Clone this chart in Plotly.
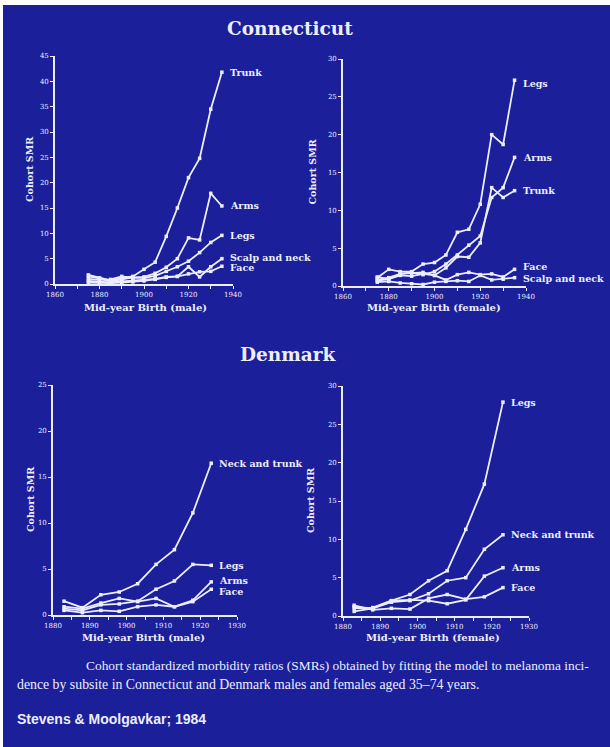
import plotly.graph_objects as go

# ---------------- data ----------------
ct_years = [1875, 1880, 1885, 1890, 1895, 1900, 1905, 1910, 1915, 1920, 1925, 1930, 1935]
dk_years = [1883, 1888, 1893, 1898, 1903, 1908, 1913, 1918, 1923]

# Connecticut males
ctm_trunk = [1.8, 1.2, 0.7, 1.2, 1.5, 2.9, 4.3, 9.4, 15.0, 21.0, 24.8, 34.5, 41.8]
ctm_arms  = [1.5, 1.1, 0.5, 0.9, 1.3, 1.4, 2.1, 3.3, 5.0, 9.1, 8.7, 17.9, 15.4]
ctm_legs  = [1.0, 0.8, 0.9, 1.5, 1.2, 1.2, 1.6, 2.5, 3.4, 4.5, 6.2, 8.2, 9.6]
ctm_scalp = [0.6, 0.4, 0.3, 0.5, 0.7, 0.9, 1.0, 1.4, 1.5, 3.4, 1.4, 3.4, 5.0]
ctm_face  = [0.3, 0.2, 0.2, 0.3, 0.4, 0.6, 0.9, 1.3, 1.5, 2.0, 2.4, 2.5, 3.5]

# Connecticut females
ctf_legs  = [1.1, 2.2, 1.9, 1.9, 2.9, 3.1, 4.1, 7.1, 7.5, 10.8, 20.0, 18.7, 27.2]
ctf_arms  = [0.8, 1.1, 1.6, 1.8, 1.5, 1.9, 2.9, 4.1, 5.4, 6.6, 11.7, 13.0, 17.0]
ctf_trunk = [1.2, 0.9, 1.4, 1.3, 1.6, 1.4, 2.4, 3.9, 3.8, 5.7, 13.0, 11.7, 12.6]
ctf_face  = [0.7, 0.9, 1.6, 1.7, 1.8, 1.4, 0.8, 1.5, 1.8, 1.5, 1.6, 1.2, 2.2]
ctf_scalp = [0.5, 0.6, 0.4, 0.3, 0.2, 0.5, 0.6, 0.7, 0.6, 1.4, 0.8, 0.9, 1.1]

# Denmark males
dkm_necktrunk = [1.5, 0.8, 2.2, 2.5, 3.4, 5.5, 7.1, 11.1, 16.5]
dkm_legs      = [0.7, 0.5, 1.1, 1.2, 1.5, 2.8, 3.7, 5.5, 5.4]
dkm_arms      = [0.9, 0.7, 1.3, 1.8, 1.45, 1.8, 0.9, 1.6, 3.6]
dkm_face      = [0.5, 0.25, 0.5, 0.4, 0.9, 1.1, 0.9, 1.45, 2.8]

# Denmark females
dkf_legs      = [1.0, 1.1, 2.0, 2.8, 4.6, 5.9, 11.3, 17.2, 27.9]
dkf_necktrunk = [1.2, 1.0, 1.8, 2.0, 2.9, 4.6, 5.0, 8.7, 10.6]
dkf_arms      = [0.6, 1.0, 2.0, 2.1, 2.0, 1.6, 2.1, 5.2, 6.3]
dkf_face      = [1.4, 0.8, 1.0, 0.9, 2.3, 2.8, 2.2, 2.5, 3.7]

ct_ticks = [1860, 1880, 1900, 1920, 1940]
dk_ticks = [1880, 1890, 1900, 1910, 1920, 1930]

# ---------------- style ----------------
W, H = 610, 747
BG = "rgb(27,31,153)"
FG = "rgb(236,238,255)"
SERIF = "DejaVu Serif"


def px(x):
    return x / W


def py(y):
    return 1 - y / H


panels = [
    dict(ax="", xd=(55, 233), yd=(56, 284), xr=[1860, 1940], yr=[0, 45], ydt=5,
         years=ct_years, xt=ct_ticks, minor=10,
         series=[("Trunk", ctm_trunk, 0), ("Arms", ctm_arms, 0), ("Legs", ctm_legs, 0),
                 ("Scalp and neck", ctm_scalp, 1), ("Face", ctm_face, -1)],
         xtitle="Mid-year Birth (male)", ytx=30, xtx=145, xty=307),
    dict(ax="2", xd=(343, 526), yd=(59, 286), xr=[1860, 1940], yr=[0, 30], ydt=5,
         years=ct_years, xt=ct_ticks, minor=10,
         series=[("Legs", ctf_legs, -3), ("Arms", ctf_arms, 0), ("Trunk", ctf_trunk, 0),
                 ("Face", ctf_face, 3), ("Scalp and neck", ctf_scalp, -1)],
         xtitle="Mid-year Birth (female)", ytx=312, xtx=434, xty=307),
    dict(ax="3", xd=(53, 237), yd=(385, 615), xr=[1880, 1930], yr=[0, 25], ydt=5,
         years=dk_years, xt=dk_ticks, minor=5,
         series=[("Neck and trunk", dkm_necktrunk, 0), ("Legs", dkm_legs, 0),
                 ("Arms", dkm_arms, 1), ("Face", dkm_face, -2)],
         xtitle="Mid-year Birth (male)", ytx=30, xtx=143, xty=637),
    dict(ax="4", xd=(343, 529), yd=(386, 616), xr=[1880, 1930], yr=[0, 30], ydt=5,
         years=dk_years, xt=dk_ticks, minor=5,
         series=[("Legs", dkf_legs, 0), ("Neck and trunk", dkf_necktrunk, 0),
                 ("Arms", dkf_arms, 0), ("Face", dkf_face, 0)],
         xtitle="Mid-year Birth (female)", ytx=310, xtx=433, xty=637),
]

fig = go.Figure()
annotations = []
layout_axes = {}


def ann(x, y, text, size, family=SERIF, xanchor="center", angle=0):
    return dict(x=px(x), y=py(y), xref="paper", yref="paper", text=text,
                showarrow=False, xanchor=xanchor, yanchor="middle", textangle=angle,
                font=dict(family=family, size=size, color=FG))


for p in panels:
    a = p["ax"]
    xref = "x" + a
    yref = "y" + a
    for name, vals, dy in p["series"]:
        fig.add_trace(go.Scatter(
            x=p["years"], y=vals, mode="lines+markers", name=name,
            xaxis=xref, yaxis=yref, showlegend=False, cliponaxis=False,
            line=dict(color=FG, width=1.8),
            marker=dict(color=FG, size=3.5, symbol="square"),
        ))
        annotations.append(dict(
            x=p["years"][-1], y=vals[-1], xref=xref, yref=yref,
            text="<b>%s</b>" % name, showarrow=False, xanchor="left", yanchor="middle",
            xshift=6, yshift=dy, font=dict(family=SERIF, size=9.5, color=FG)))
    common = dict(showline=True, linecolor=FG, linewidth=1.6, ticks="outside",
                  tickcolor=FG, ticklen=3, tickwidth=1.2, showgrid=False, zeroline=False,
                  automargin=False,
                  tickfont=dict(family=SERIF, size=7, color=FG))
    layout_axes["xaxis" + a] = dict(
        domain=[px(p["xd"][0]), px(p["xd"][1])], range=p["xr"], anchor=yref,
        tickmode="array", tickvals=p["xt"], ticktext=[str(t) for t in p["xt"]],
        minor=dict(dtick=p["minor"], ticks="outside", ticklen=3, tickcolor=FG, tickwidth=1.2),
        **common)
    layout_axes["yaxis" + a] = dict(
        domain=[py(p["yd"][1]), py(p["yd"][0])], range=p["yr"], anchor=xref,
        dtick=p["ydt"], tick0=0, **common)
    annotations.append(ann(p["ytx"], (p["yd"][0] + p["yd"][1]) / 2, "<b>Cohort SMR</b>",
                           9.5, family=SERIF, angle=-90))
    annotations.append(ann(p["xtx"], p["xty"], "<b>%s</b>" % p["xtitle"], 10))

# titles
annotations.append(ann(290, 28, "<b>Connecticut</b>", 18.5))
annotations.append(ann(288, 354, "<b>Denmark</b>", 18.5))

# caption
annotations.append(ann(84, 665, "Cohort standardized morbidity ratios (SMRs) obtained by fitting the model to melanoma inci-",
                       13.4, family="Liberation Serif", xanchor="left"))
annotations.append(ann(15, 684, "dence by subsite in Connecticut and Denmark males and females aged 35\u201374 years.",
                       13.8, family="Liberation Serif", xanchor="left"))
annotations.append(ann(15, 719, "<b>Stevens & Moolgavkar; 1984</b>", 14, family="Liberation Sans",
                       xanchor="left"))

# blue slide area (white strip along the top and left edge of the photo)
shapes = [
    dict(type="rect", xref="paper", yref="paper", x0=px(3), x1=1.02, y0=-0.02, y1=py(5),
         fillcolor=BG, line=dict(width=0), layer="below"),
]

fig.update_layout(
    width=W, height=H, margin=dict(l=0, r=0, t=0, b=0, autoexpand=False),
    paper_bgcolor="white", plot_bgcolor="rgba(0,0,0,0)",
    annotations=annotations, shapes=shapes, showlegend=False,
    **layout_axes,
)

fig.write_html("out.html")
